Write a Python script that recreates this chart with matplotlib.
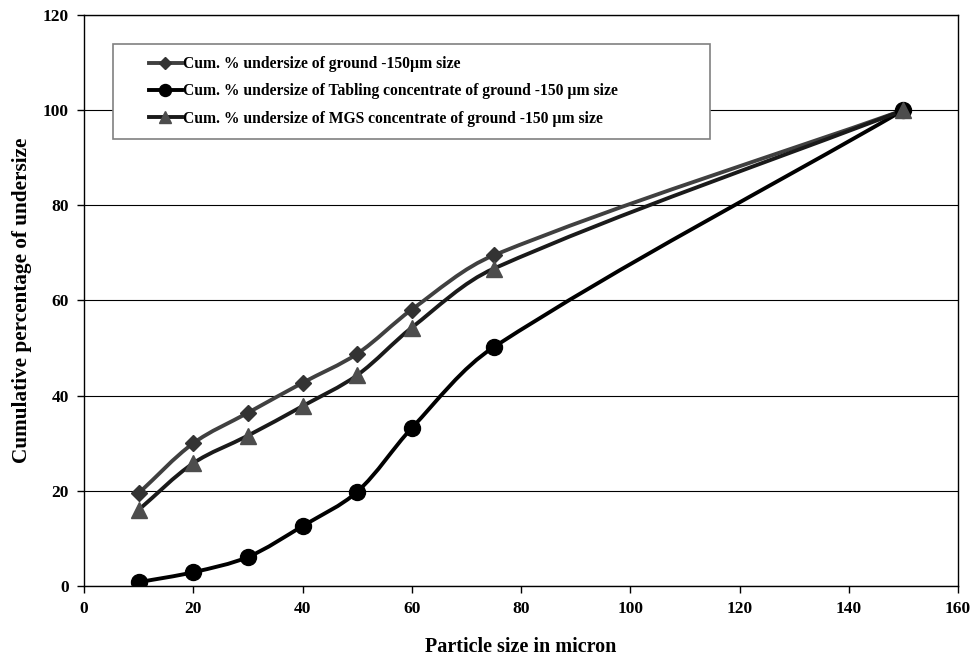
"""
Cumulative undersize curves for ground -150 micron feed and its concentrates
"""

import numpy as np
import matplotlib
matplotlib.use("Agg")
import matplotlib.pyplot as plt
from matplotlib.path import Path
from matplotlib.patches import PathPatch, Rectangle
from matplotlib.lines import Line2D

plt.rcParams['font.family'] = ['Liberation Serif', 'DejaVu Serif']
plt.rcParams['font.weight'] = 'bold'

# particle size (micron)
sizes = [10, 20, 30, 40, 50, 60, 75, 150]

# cumulative % undersize
ground = [19.5, 30.0, 36.4, 42.7, 48.8, 58.1, 69.5, 100]
tabling = [0.8, 2.9, 6.1, 12.6, 19.8, 33.2, 50.2, 100]
mgs = [16.0, 25.8, 31.6, 37.8, 44.3, 54.3, 66.7, 100]

labels = [
    'Cum. % undersize of ground -150µm size',
    'Cum. % undersize of Tabling concentrate of ground -150 µm size',
    'Cum. % undersize of MGS concentrate of ground -150 µm size',
]

XMAX, YMAX = 160, 120


def smooth_path(x, y, sx, sy, t=0.33):
    """Excel-like smoothed line, built in screen proportions then mapped back to data"""
    pts = np.column_stack([np.asarray(x) * sx, np.asarray(y) * sy]).astype(float)
    n = len(pts)
    dirs = []
    for i in range(n):
        a = pts[max(i - 1, 0)]
        b = pts[min(i + 1, n - 1)]
        d = b - a
        dirs.append(d / np.hypot(*d))
    verts = [pts[0]]
    codes = [Path.MOVETO]
    for i in range(n - 1):
        seg = np.hypot(*(pts[i + 1] - pts[i]))
        c1 = pts[i] + dirs[i] * seg * t
        c2 = pts[i + 1] - dirs[i + 1] * seg * t
        verts += [c1, c2, pts[i + 1]]
        codes += [Path.CURVE4] * 3
    verts = np.array(verts) / np.array([sx, sy])
    return Path(verts, codes)


fig = plt.figure(figsize=(9.77, 6.6), dpi=100)
ax = fig.add_axes([0.086, 0.1121, 0.8946, 0.8652])

# pixels per data unit, used for the smoothing shape
sx = 874 / XMAX
sy = 571 / YMAX

series = [
    (ground, 'D', '#404040', '#333333', 8.5),
    (tabling, 'o', '#000000', '#000000', 11.5),
    (mgs, '^', '#1a1a1a', '#4d4d4d', 11.5),
]

handles = []
for (vals, mk, lc, mc, ms), lab in zip(series, labels):
    patch = PathPatch(smooth_path(sizes, vals, sx, sy), facecolor='none',
                      edgecolor=lc, lw=2.8, zorder=3)
    ax.add_patch(patch)
    ax.plot(sizes, vals, linestyle='none', marker=mk, markersize=ms,
            markerfacecolor=mc, markeredgecolor=mc, zorder=4)
    handles.append(Line2D([], [], color=lc, lw=2.8, marker=mk,
                          markersize=ms * 0.75, markerfacecolor=mc,
                          markeredgecolor=mc, label=lab))

ax.set_xlim(0, XMAX)
ax.set_ylim(0, YMAX)
ax.set_xticks(np.arange(0, 161, 20))
ax.set_yticks(np.arange(0, 121, 20))
ax.yaxis.grid(True, color='black', lw=0.8)
ax.set_axisbelow(True)
ax.tick_params(direction='out', length=5, width=1, labelsize=12.5, pad=6)
for lbl in ax.get_xticklabels() + ax.get_yticklabels():
    lbl.set_fontweight('bold')
for sp in ax.spines.values():
    sp.set_linewidth(1.0)
    sp.set_color('black')

ax.set_xlabel('Particle size in micron', fontsize=14.5, fontweight='bold', labelpad=14)
ax.set_ylabel('Cumulative percentage of undersize', fontsize=15.3,
              fontweight='bold', labelpad=8)

# legend frame
ax.add_patch(Rectangle((0.033, 0.783), 0.683, 0.166, transform=ax.transAxes,
                       facecolor='white', edgecolor='#808080', lw=1.2, zorder=5))
leg = ax.legend(handles=handles, loc='upper left', bbox_to_anchor=(0.06, 0.95),
                frameon=False, fontsize=11.25, handlelength=2.1,
                handletextpad=0.1, labelspacing=0.72, borderpad=0.3)
leg.set_zorder(6)
for t in leg.get_texts():
    t.set_fontweight('bold')

plt.savefig('out.png', dpi=100)
